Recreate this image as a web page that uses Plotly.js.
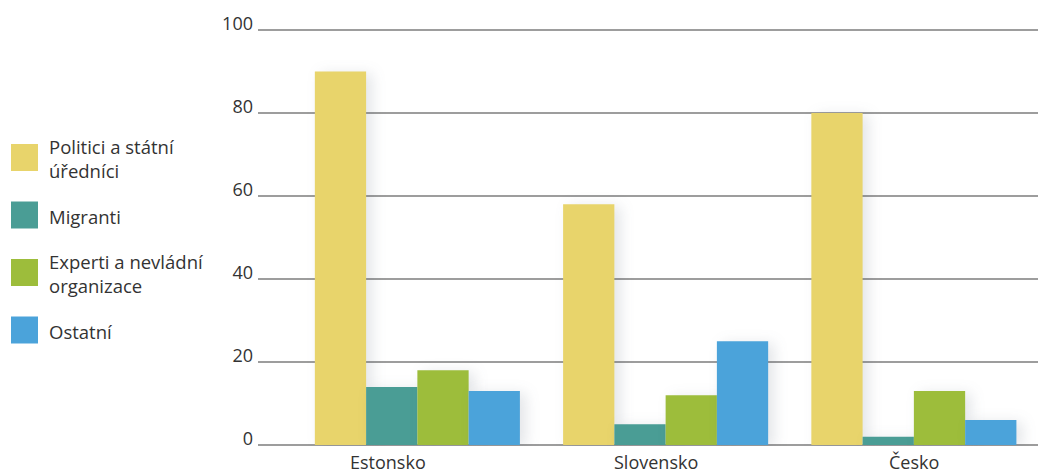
<!DOCTYPE html>
<html>
<head>
<meta charset="utf-8">
<script src="https://cdn.plot.ly/plotly-3.0.1.min.js"></script>
<style>
  html, body { margin: 0; padding: 0; background: #ffffff; }
  #chart { width: 1038px; height: 475px; }
</style>
</head>
<body>
<div id="chart"></div>
<script>
// Countries on the x axis
const countries = ['Estonsko', 'Slovensko', 'Česko'];

// Share of each actor group (%)
const politici = [90, 58, 80];
const migranti = [14, 5, 2];
const experti = [18, 12, 13];
const ostatni = [13, 25, 6];

// Series labels and colours
const seriesNames = ['Politici a státní<br>úředníci', 'Migranti', 'Experti a nevládní<br>organizace', 'Ostatní'];
const seriesColors = ['#E8D46B', '#4A9D95', '#9DBD3B', '#4BA3DA'];
const seriesValues = [politici, migranti, experti, ostatni];

// Y axis ticks
const yTicks = [0, 20, 40, 60, 80, 100];

const W = 1038, H = 475;
const M = { l: 258, r: 0, t: 29, b: 29 };
const plotW = W - M.l - M.r;
const plotH = H - M.t - M.b;
const Y_PAD = 0.24;

// pixel -> paper helpers for the side legend
const px2x = px => (px - M.l) / plotW;
const py2y = py => 1 - (py - M.t) / plotH;

const FONT = 'Open Sans, Noto Sans, sans-serif';
const TEXT = '#333333';

const traces = seriesValues.map((vals, i) => ({
  type: 'bar',
  x: countries,
  y: vals,
  name: seriesNames[i],
  marker: { color: seriesColors[i], line: { width: 0 } },
  showlegend: false,
  hoverinfo: 'x+y'
}));

const shapes = [];
const annotations = [];

// Horizontal gridlines at every tick, including 0 and 100
yTicks.forEach(v => {
  shapes.push({
    type: 'line', xref: 'paper', yref: 'y', x0: 0, x1: 1, y0: v, y1: v,
    line: { color: '#7d7d7d', width: 1.4 }, layer: 'below'
  });
});

// Side legend: one swatch + label per series
const legendTop = 157.5, legendStep = 57.5;
seriesNames.forEach((name, i) => {
  const cy = legendTop + i * legendStep;
  shapes.push({
    type: 'rect', xref: 'paper', yref: 'paper',
    x0: px2x(11), x1: px2x(38), y0: py2y(cy + 13.5), y1: py2y(cy - 13.5),
    fillcolor: seriesColors[i], line: { width: 0 }
  });
  annotations.push({
    xref: 'paper', yref: 'paper', x: px2x(47), y: py2y(cy + 1),
    xanchor: 'left', yanchor: 'middle', align: 'left', showarrow: false,
    text: name, font: { family: FONT, size: 18.5, color: TEXT }
  });
});

// Category labels under each group (slightly left of the group centre)
const labelShift = [-29, -10, 0];
countries.forEach((c, i) => {
  annotations.push({
    xref: 'x', yref: 'paper', x: c, y: 0, xshift: labelShift[i], yshift: -3,
    xanchor: 'center', yanchor: 'top', showarrow: false, borderpad: 0,
    text: c, font: { family: FONT, size: 18, color: TEXT }
  });
});

const layout = {
  width: W, height: H,
  margin: M,
  paper_bgcolor: '#ffffff', plot_bgcolor: '#ffffff',
  barmode: 'group', bargap: 0.174, bargroupgap: 0,
  font: { family: FONT, color: TEXT },
  xaxis: {
    type: 'category', range: [-0.642, 2.5],
    showticklabels: false, showgrid: false, zeroline: false, showline: false, ticks: ''
  },
  yaxis: {
    range: [-Y_PAD, 100 + Y_PAD], tickvals: yTicks, ticktext: yTicks.map(String),
    showgrid: false, zeroline: false, showline: false, ticks: '',
    ticklabelstandoff: 4, ticklabelshift: -6,
    tickfont: { family: FONT, size: 18, color: TEXT }
  },
  shapes: shapes,
  annotations: annotations
};

Plotly.newPlot('chart', traces, layout, { displayModeBar: false, staticPlot: true }).then(() => {
  // soft shadow to the right of each bar
  document.querySelectorAll('#chart .bars .point path').forEach(p => {
    p.style.filter = 'drop-shadow(6px 2px 7px rgba(60,70,90,0.14))';
  });
});
</script>
</body>
</html>
